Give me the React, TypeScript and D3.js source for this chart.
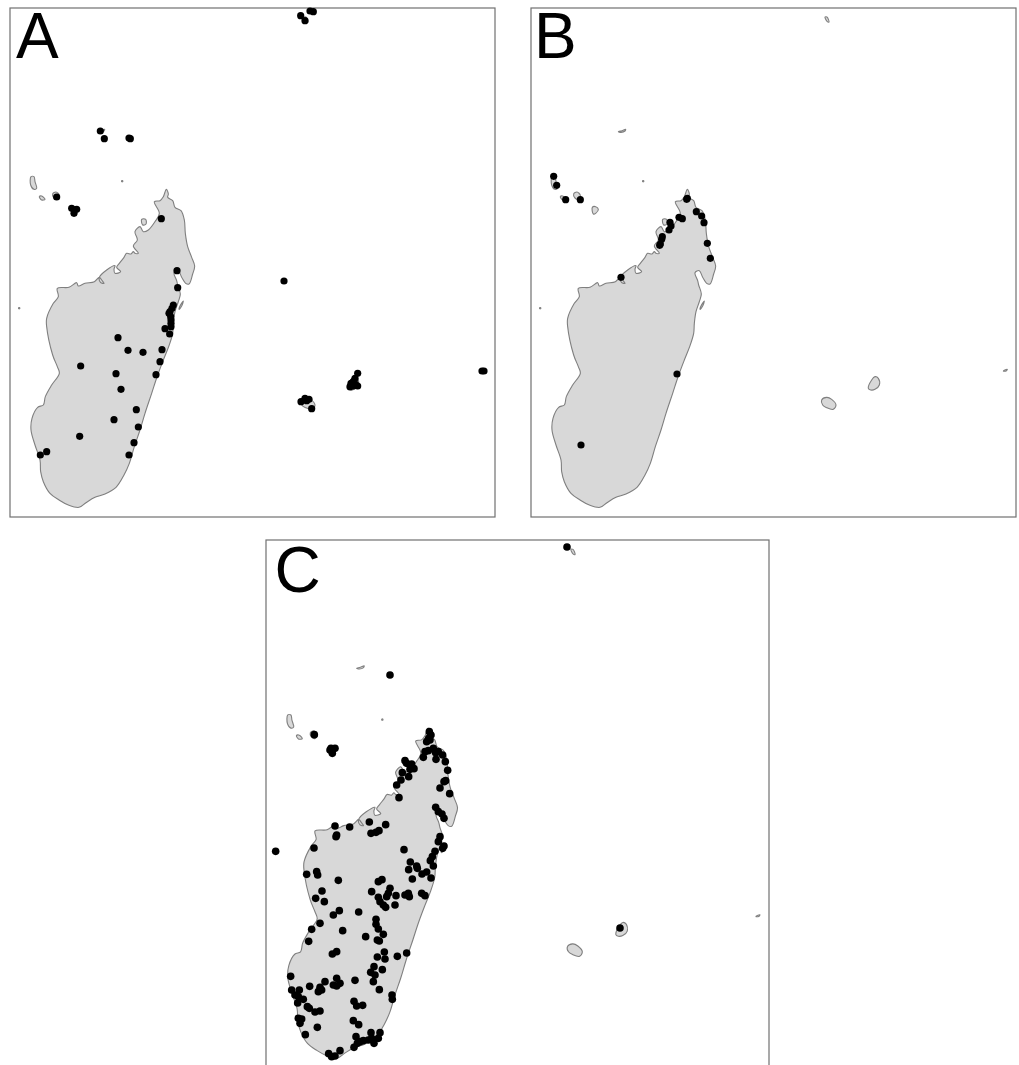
import React from "react";
import * as d3 from "d3";

type P = [number, number];

// Map grid used for the coastlines and for panels A and B
const madagascar: P[] = [[499,58],[505,72],[503,82],[518,92],[525,112],[543,122],[553,150],[556,190],[563,230],[575,262],[584,288],[578,312],[567,342],[557,340],[545,322],[535,302],[522,308],[530,332],[533,345],[541,372],[535,395],[525,425],[520,460],[518,490],[506,530],[490,570],[472,618],[455,670],[435,730],[420,780],[403,830],[388,880],[372,915],[348,952],[315,972],[285,982],[258,998],[237,1012],[205,1005],[177,990],[150,970],[130,935],[122,905],[120,870],[105,825],[93,780],[96,745],[113,712],[130,705],[136,680],[155,645],[178,610],[172,590],[158,555],[140,470],[140,445],[160,400],[175,380],[172,355],[207,352],[230,338],[235,348],[255,340],[283,335],[298,322],[305,330],[312,340],[302,338],[298,322],[320,300],[345,287],[342,298],[345,310],[362,305],[350,292],[358,280],[372,262],[380,250],[393,252],[400,245],[405,250],[415,250],[400,228],[412,210],[405,185],[420,170],[430,185],[445,180],[465,155],[478,130],[463,95],[480,92],[490,80]];
const grandeComore: P[] = [[93,20],[102,20],[105,35],[110,55],[102,58],[92,45]];
const moheli: P[] = [[118,80],[125,78],[135,88],[125,90]];
const anjouan: P[] = [[158,72],[168,66],[178,76],[172,88],[162,84]];
const mayotte: P[] = [[214,112],[224,110],[232,118],[224,130],[217,132]];
const nosyBe: P[] = [[425,148],[437,148],[438,162],[428,165]];
const sainteMarie: P[] = [[550,393],[545,408],[537,418],[540,408]];
const aldabra: P[] = [[292,-115],[303,-118],[314,-122],[312,-117],[300,-113]];
const seychelles: P[] = [[912,-459],[918,-459],[924,-444],[918,-446]];
const reunion: P[] = [[902,690],[917,682],[932,688],[945,705],[937,718],[917,713],[905,705]];
const mauritius: P[] = [[1042,655],[1052,630],[1062,620],[1072,625],[1075,645],[1062,658],[1049,660]];
const rodrigues: P[] = [[1447,603],[1453,599],[1459,598],[1455,603]];
const glorieuses: P[] = [[365,32],[368,32],[368,35],[365,35]];
const juanDeNova: P[] = [[56,413],[59,413],[59,416],[56,416]];
const coastlines = [madagascar, grandeComore, moheli, anjouan, mayotte, nosyBe, sainteMarie, aldabra, seychelles, reunion, mauritius, rodrigues, glorieuses, juanDeNova];

const recordsA: P[] = [[902,-463],[915,-448],[930,-477],[940,-475],[301,-117],[313,-94],[387,-96],[391,-94],[170,81],[215,115],[230,118],[222,130],[852,333],[1452,603],[1446,603],[903,695],[915,685],[927,688],[920,692],[935,716],[1073,610],[1065,625],[1050,650],[1060,648],[1073,648],[1053,640],[1060,635],[1066,642],
[484,146],[531,302],[533,353],[520,405],[516,415],[510,425],[507,430],[512,440],[513,450],[513,460],[513,470],[495,476],[509,492],[354,503],[384,541],[429,547],[486,539],[480,575],[468,614],[242,588],[348,611],[363,658],[409,719],[342,749],[415,771],[239,799],[402,818],[387,855],[140,845],[121,855]];

const recordsB: P[] = [[98,19],[107,46],[134,89],[178,89],[300,322],[499,85],[497,88],[526,125],[542,138],[549,158],[559,220],[568,265],[474,142],[484,146],[447,157],[450,168],[444,180],[424,200],[422,208],[418,222],[416,226],[468,612],[180,825]];

// Panel C has its own reading grid
const recordsCOffshore: P[] = [[891,-519],[360,-135],[1050,624],[133,44],[183,85],[195,85],[187,100],[180,90],[17,394]];
const recordsCNorth: P[] = [[478,35],[483,45],[476,55],[470,65],[480,60],[490,85],[475,92],[465,95],[460,112],[497,98],[505,95],[518,105],[498,118],[526,125],[533,151],[527,182],[522,185],[510,204],[539,221],[405,122],[410,130],[425,132],[432,146],[420,148],[397,158],[416,170],[393,180],[380,195],[387,233],[497,262],[505,275],[516,282],[522,295],[298,306],[347,314],[239,321],[195,318],[200,345],[198,350],[303,340],[318,337],[327,332],[510,350],[505,365],[522,378],[518,385],[402,389],[132,384],[495,394],[487,410],[481,422],[490,438],[421,426],[440,438],[442,445],[416,449],[470,456],[456,462],[427,477],[483,474],[110,463],[140,455],[143,465],[205,481],[325,485],[336,479]];
const recordsCSouth: P[] = [[156,513],[137,535],[163,545],[305,515],[360,505],[355,520],[350,530],[325,532],[330,545],[340,555],[347,562],[375,555],[378,527],[405,525],[415,520],[418,530],[455,520],[465,527],[208,572],[190,585],[266,576],[318,598],[318,613],[325,627],[150,610],[125,628],[218,632],[340,643],[287,650],[322,660],[328,663],[116,664],[200,695],[187,702],[343,696],[322,711],[345,717],[382,709],[410,699],[312,740],[337,749],[302,757],[315,765],[62,769],[200,775],[165,785],[190,795],[210,790],[200,798],[255,781],[310,785],[119,799],[150,802],[145,815],[155,810],[328,809],[65,810],[88,810],[75,825],[85,830],[100,838],[83,849],[112,860],[118,865],[135,876],[150,873],[366,825],[367,838],[252,844],[260,858],[278,856],[95,897],[85,895],[90,910],[142,922],[106,944],[250,902],[266,914],[258,950],[303,938],[330,938],[262,970],[280,962],[295,960],[305,955],[325,955],[312,970],[270,965],[252,982],[210,992],[176,1001],[185,1010],[195,1008]];
const recordsC: P[] = [...recordsCOffshore, ...recordsCNorth, ...recordsCSouth];

const panelLabels = ["A", "B", "C"];
const mapGridX: P = [30, 1485];
const mapGridY: P = [-486, 1041];
const readingGridCX: P = [-12, 1497];
const readingGridCY: P = [-540, 1044];

const panels = [
  { label: panelLabels[0], left: 10, top: 8, w: 485, h: 509, pts: recordsA, px: mapGridX, py: mapGridY, r: 3.6, lx: 16, ly: 58 },
  { label: panelLabels[1], left: 531, top: 8, w: 485, h: 509, pts: recordsB, px: mapGridX, py: mapGridY, r: 3.6, lx: 534, ly: 58 },
  { label: panelLabels[2], left: 266, top: 540, w: 503, h: 528, pts: recordsC, px: readingGridCX, py: readingGridCY, r: 3.8, lx: 274.5, ly: 591.5 },
];

function Panel({ p }: { p: (typeof panels)[number] }) {
  const xLand = d3.scaleLinear().domain(mapGridX).range([p.left, p.left + p.w]);
  const yLand = d3.scaleLinear().domain(mapGridY).range([p.top, p.top + p.h]);
  const xPt = d3.scaleLinear().domain(p.px).range([p.left, p.left + p.w]);
  const yPt = d3.scaleLinear().domain(p.py).range([p.top, p.top + p.h]);
  const coast = d3.line<P>().x((d) => xLand(d[0])).y((d) => yLand(d[1])).curve(d3.curveCatmullRomClosed.alpha(0.5));
  return (
    <g>
      <rect x={p.left} y={p.top} width={p.w} height={p.h} fill="#fff" stroke="#707070" strokeWidth={1.2} />
      {coastlines.map((c, i) => (
        <path key={i} d={coast(c) ?? ""} fill="#d8d8d8" stroke="#7f7f7f" strokeWidth={1.1} strokeLinejoin="round" />
      ))}
      {p.pts.map((d, i) => (
        <circle key={i} cx={xPt(d[0])} cy={yPt(d[1])} r={p.r} fill="#000" />
      ))}
      <text x={p.lx} y={p.ly} fontFamily="'Liberation Sans', Arial, sans-serif" fontSize={64} fill="#000">
        {p.label}
      </text>
    </g>
  );
}

export default function App() {
  return (
    <svg width={1019} height={1065} viewBox="0 0 1019 1065" style={{ position: "absolute", left: 0, top: 0, display: "block", background: "#fff" }}>
      {panels.map((p) => (
        <Panel key={p.label} p={p} />
      ))}
    </svg>
  );
}
